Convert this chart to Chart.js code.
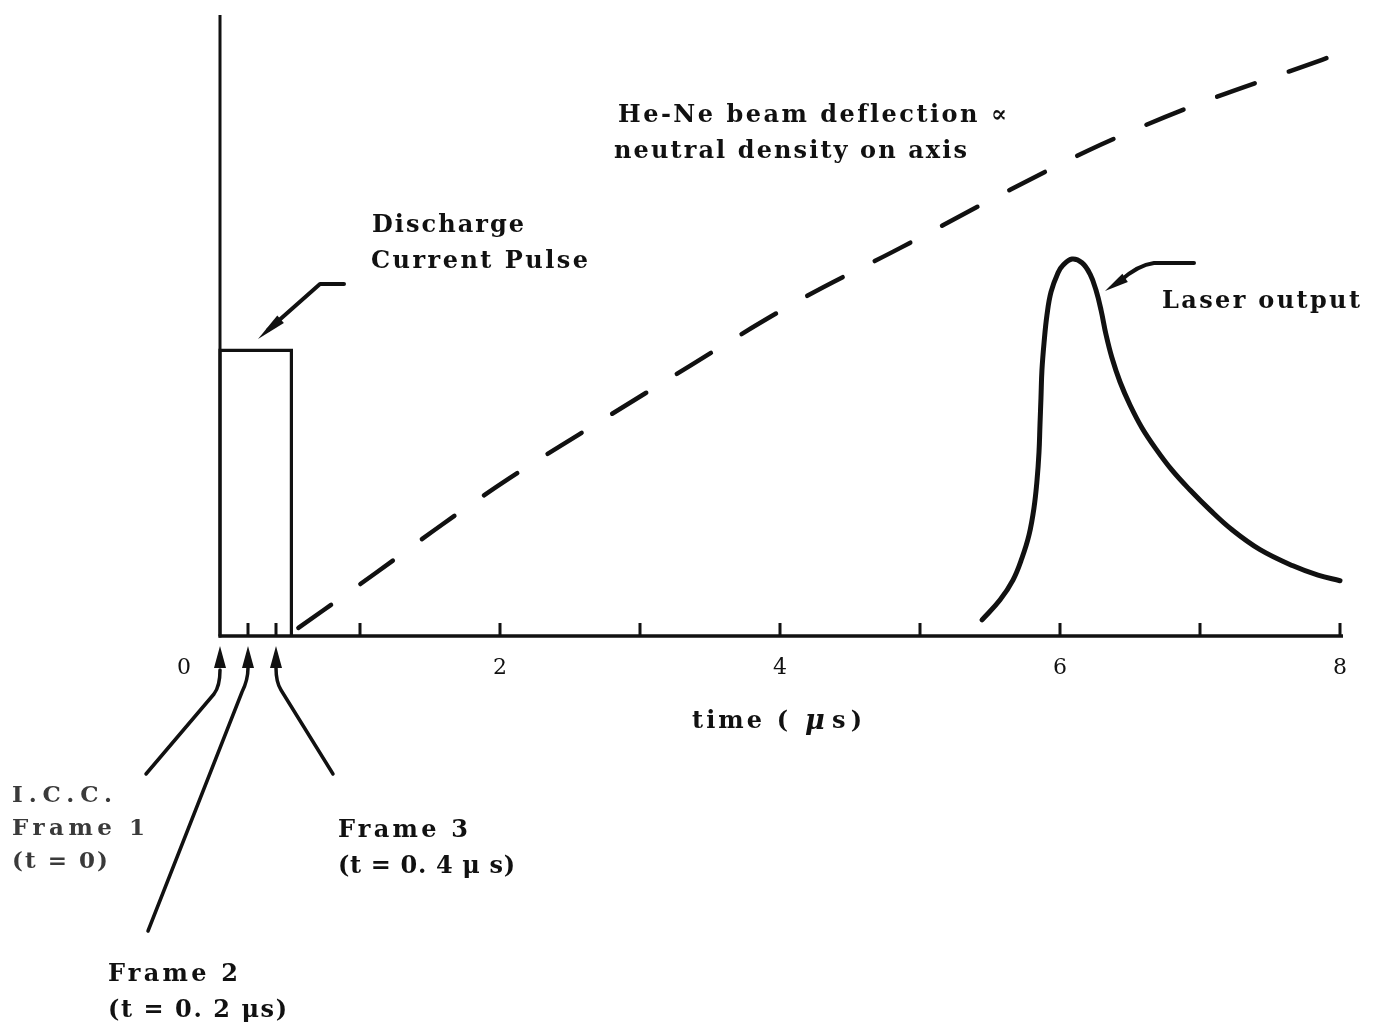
<!DOCTYPE html>
<html><head><meta charset="utf-8">
<script src="https://cdn.jsdelivr.net/npm/chart.js@4.4.0/dist/chart.umd.min.js"></script>
<style>html,body{margin:0;padding:0;background:#fff;} #wrap{width:1380px;height:1029px;position:relative;}</style>
</head><body><div id="wrap"><canvas id="c" width="1380" height="1029"></canvas></div>
<script>
// ---- data (time in µs, relative signal level 0..100) ----
const pulseTime  = [0, 0, 0.51, 0.51];
const pulseLevel = [0, 46, 46, 0];

const deflTime  = [0.56, 1.11, 1.59, 2.06, 2.56, 3.09, 4.14, 4.86, 5.57, 6.29, 7.0, 7.71, 7.96];
const deflLevel = [1.3, 10.1, 18.0, 25.3, 32.4, 39.8, 54.1, 62.5, 71.0, 79.1, 85.8, 91.5, 93.5];

const laserTime  = [5.443, 5.571, 5.664, 5.729, 5.779, 5.814, 5.836, 5.850, 5.857, 5.864, 5.871, 5.886, 5.907, 5.936, 5.986, 6.021, 6.086, 6.157, 6.214, 6.257, 6.293, 6.329, 6.371, 6.429, 6.500, 6.586, 6.686, 6.800, 6.929, 7.071, 7.229, 7.429, 7.664, 7.843, 8.0];
const laserLevel = [2.6, 5.8, 9.0, 12.6, 16.3, 20.6, 25.1, 29.6, 34.0, 38.3, 42.8, 47.2, 51.7, 55.4, 58.5, 59.7, 60.7, 60.1, 58.3, 55.7, 52.5, 48.5, 44.8, 40.9, 37.2, 33.5, 30.1, 26.7, 23.5, 20.3, 17.1, 13.9, 11.3, 9.8, 8.9];

const majorTicks = [1, 2, 3, 4, 5, 6, 7, 8];
const minorTicks = [0.2, 0.4];
const tickLabelValues = [0, 2, 4, 6, 8];
const tickLabels = ['0', '2', '4', '6', '8'];
const frameTimes = [0, 0.2, 0.4];

const xMin = 0, xMax = 8, yMin = 0, yMax = 100;

function pts(xs, ys) { return xs.map((x, i) => ({x: x, y: ys[i]})); }

const FONT = '"DejaVu Serif", serif';
const INK = '#111';

function setFont(ctx, size, opts) {
  ctx.font = (opts.style || 'normal') + ' ' + (opts.weight || 'bold') + ' ' + size + 'px ' + FONT;
}
// draw text starting at x, spread to a target width with letter spacing
function txt(ctx, s, x, y, size, width, opts) {
  opts = opts || {};
  ctx.save();
  setFont(ctx, size, opts);
  ctx.letterSpacing = '0px';
  const natural = ctx.measureText(s).width;
  const n = Math.max(1, s.length - 1);
  const ls = width ? Math.max(0, (width - natural) / n) : 0;
  ctx.letterSpacing = ls + 'px';
  ctx.fillStyle = opts.color || INK;
  ctx.textBaseline = 'middle';
  ctx.textAlign = opts.align || 'left';
  ctx.fillText(s, x, y);
  ctx.restore();
  return width || natural;
}

function arrowHead(ctx, tipX, tipY, fromX, fromY, len, half) {
  const a = Math.atan2(tipY - fromY, tipX - fromX);
  const bx = tipX - Math.cos(a) * len, by = tipY - Math.sin(a) * len;
  ctx.beginPath();
  ctx.moveTo(tipX, tipY);
  ctx.lineTo(bx + Math.sin(a) * half, by - Math.cos(a) * half);
  ctx.lineTo(bx - Math.sin(a) * half, by + Math.cos(a) * half);
  ctx.closePath();
  ctx.fill();
}

const decor = {
  id: 'decor',
  beforeDatasetsDraw(chart) {
    const ctx = chart.ctx, xs = chart.scales.x, ys = chart.scales.y;
    const x0 = xs.getPixelForValue(xMin), x8 = xs.getPixelForValue(xMax);
    const yb = ys.getPixelForValue(yMin), yt = ys.getPixelForValue(yMax);
    ctx.save();
    ctx.strokeStyle = INK; ctx.lineCap = 'butt';
    ctx.lineWidth = 3;
    ctx.beginPath(); ctx.moveTo(x0, yt); ctx.lineTo(x0, yb + 1.5); ctx.stroke();
    ctx.lineWidth = 3.5;
    ctx.beginPath(); ctx.moveTo(x0 - 1.5, yb); ctx.lineTo(x8 + 3, yb); ctx.stroke();
    ctx.lineWidth = 3;
    majorTicks.concat(minorTicks).forEach(v => {
      const px = xs.getPixelForValue(v);
      ctx.beginPath(); ctx.moveTo(px, yb); ctx.lineTo(px, yb - 13); ctx.stroke();
    });
    ctx.restore();
  },
  afterDatasetsDraw(chart) {
    const ctx = chart.ctx, xs = chart.scales.x, ys = chart.scales.y;
    const yb = ys.getPixelForValue(yMin);
    // tick labels
    tickLabelValues.forEach((v, i) => {
      let px = xs.getPixelForValue(v);
      if (v === 0) px -= 36;
      txt(ctx, tickLabels[i], px, yb + 32, 22, 0, {align: 'center', weight: 'normal'});
    });
    // axis title: time ( µ s)
    txt(ctx, 'time (', 692, 722, 24, 96);
    txt(ctx, 'μ', 805, 722, 27, 0, {style: 'italic'});
    txt(ctx, 's)', 832, 722, 24, 30);

    // text annotations
    txt(ctx, 'He-Ne beam deflection ∝', 618, 116, 24, 387);
    txt(ctx, 'neutral density on axis', 614, 152, 24, 353);
    txt(ctx, 'Discharge', 372, 226, 24, 152);
    txt(ctx, 'Current Pulse', 371, 262, 24, 217);
    txt(ctx, 'Laser output', 1162, 302, 24, 198);
    txt(ctx, 'I.C.C.', 12, 796, 23, 100, {color: '#3a3a3a'});
    txt(ctx, 'Frame 1', 12, 829, 23, 133, {color: '#3a3a3a'});
    txt(ctx, '(t = 0)', 12, 862, 23, 96, {color: '#3a3a3a'});
    txt(ctx, 'Frame 3', 338, 831, 24, 130);
    txt(ctx, '(t = 0. 4 μ s)', 338, 867, 24, 177);
    txt(ctx, 'Frame 2', 108, 975, 24, 130);
    txt(ctx, '(t = 0. 2 μs)', 108, 1011, 24, 179);

    ctx.save();
    ctx.strokeStyle = INK; ctx.fillStyle = INK;
    ctx.lineCap = 'round'; ctx.lineJoin = 'round';
    // discharge arrow
    ctx.lineWidth = 4;
    ctx.beginPath(); ctx.moveTo(344, 284); ctx.lineTo(320, 284); ctx.lineTo(268, 330); ctx.stroke();
    arrowHead(ctx, 258, 339, 290, 311, 30, 5);
    // laser arrow
    ctx.beginPath(); ctx.moveTo(1194, 263); ctx.lineTo(1154, 263);
    ctx.quadraticCurveTo(1138, 265, 1120, 281); ctx.stroke();
    arrowHead(ctx, 1105, 291, 1128, 276, 24, 5);
    // frame arrows
    const tipY = yb + 10;
    const tips = frameTimes.map(v => xs.getPixelForValue(v));
    ctx.lineWidth = 3.5;
    ctx.beginPath(); ctx.moveTo(146, 774); ctx.lineTo(214, 694); ctx.quadraticCurveTo(tips[0], 686, tips[0], 670); ctx.stroke();
    arrowHead(ctx, tips[0], tipY, tips[0], tipY + 30, 22, 6);
    ctx.beginPath(); ctx.moveTo(148, 931); ctx.lineTo(242, 692); ctx.quadraticCurveTo(tips[1], 680, tips[1], 668); ctx.stroke();
    arrowHead(ctx, tips[1], tipY, tips[1], tipY + 30, 22, 6);
    ctx.beginPath(); ctx.moveTo(333, 774); ctx.lineTo(281, 690); ctx.quadraticCurveTo(tips[2], 682, tips[2], 668); ctx.stroke();
    arrowHead(ctx, tips[2], tipY, tips[2], tipY + 30, 22, 6);
    ctx.restore();
  }
};

new Chart(document.getElementById('c'), {
  type: 'scatter',
  data: {
    datasets: [
      { label: 'Discharge current pulse', data: pts(pulseTime, pulseLevel), showLine: true,
        borderColor: INK, borderWidth: 3.2, pointRadius: 0, tension: 0, fill: false, clip: false },
      { label: 'He-Ne beam deflection', data: pts(deflTime, deflLevel), showLine: true,
        borderColor: INK, borderWidth: 4.5, borderDash: [40, 36], borderCapStyle: 'round',
        pointRadius: 0, tension: 0.4, cubicInterpolationMode: 'monotone', fill: false, clip: false },
      { label: 'Laser output', data: pts(laserTime, laserLevel), showLine: true,
        borderColor: INK, borderWidth: 5, borderCapStyle: 'round', borderJoinStyle: 'round',
        pointRadius: 0, tension: 0.4, fill: false, clip: false }
    ]
  },
  options: {
    responsive: false, animation: false, devicePixelRatio: 1,
    layout: { padding: { left: 220, right: 40, top: 15, bottom: 393 } },
    scales: {
      x: { type: 'linear', min: xMin, max: xMax, display: false },
      y: { type: 'linear', min: yMin, max: yMax, display: false }
    },
    plugins: { legend: { display: false }, tooltip: { enabled: false } },
    events: []
  },
  plugins: [decor]
});
</script>
</body></html>
